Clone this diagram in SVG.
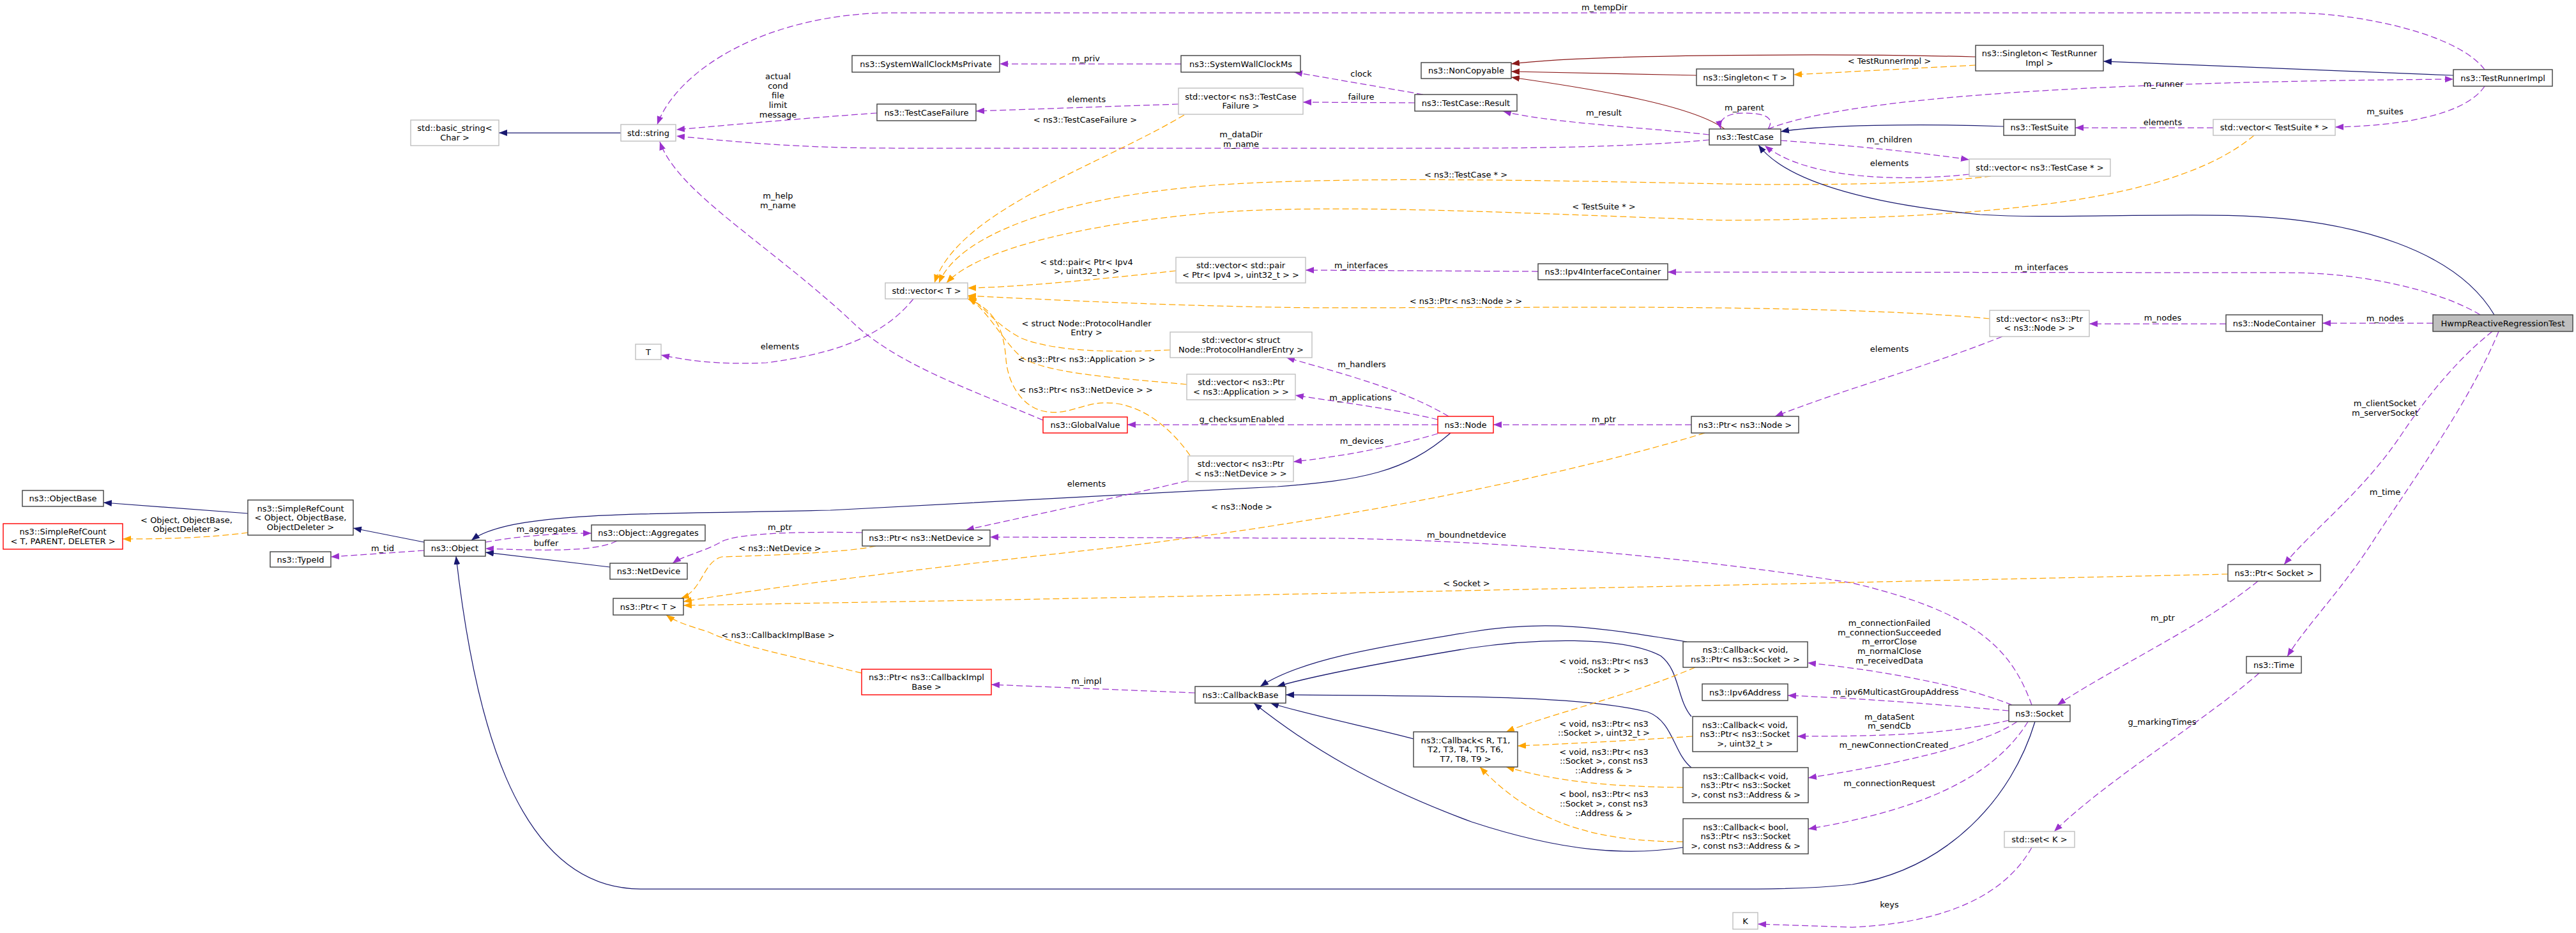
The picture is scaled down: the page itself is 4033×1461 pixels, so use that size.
<svg xmlns="http://www.w3.org/2000/svg" width="4033" height="1461" viewBox="0 0 4033 1461">
<style>
.b{fill:#fff;stroke:#404040;stroke-width:1.4}
.g{fill:#fff;stroke:#bfbfbf;stroke-width:1.4}
.r{fill:#fff;stroke:#ff0000;stroke-width:1.4}
.f{fill:#bfbfbf;stroke:#404040;stroke-width:1.4}
text{font-family:"DejaVu Sans",sans-serif;font-size:13px;text-anchor:middle;fill:#000}
.e path{fill:none;stroke-width:1.25}
.inh{stroke:#191970;marker-end:url(#aN)}
.priv{stroke:#8b1a1a;marker-end:url(#aR)}
.use{stroke:#9a32cd;stroke-dasharray:10,5;marker-end:url(#aP)}
.tmpl{stroke:#ffa500;stroke-dasharray:10,5;marker-end:url(#aO)}
</style>
<defs>
<marker id="aN" markerUnits="userSpaceOnUse" markerWidth="13" markerHeight="10" viewBox="0 0 13 10" refX="13" refY="5" orient="auto"><path d="M0,0 L13,5 L0,10 z" fill="#191970"/></marker>
<marker id="aR" markerUnits="userSpaceOnUse" markerWidth="13" markerHeight="10" viewBox="0 0 13 10" refX="13" refY="5" orient="auto"><path d="M0,0 L13,5 L0,10 z" fill="#8b1a1a"/></marker>
<marker id="aP" markerUnits="userSpaceOnUse" markerWidth="13" markerHeight="10" viewBox="0 0 13 10" refX="13" refY="5" orient="auto"><path d="M0,0 L13,5 L0,10 z" fill="#9a32cd"/></marker>
<marker id="aO" markerUnits="userSpaceOnUse" markerWidth="13" markerHeight="10" viewBox="0 0 13 10" refX="13" refY="5" orient="auto"><path d="M0,0 L13,5 L0,10 z" fill="#ffa500"/></marker>
</defs>
<rect width="4033" height="1461" fill="#fff"/>
<g id="edges" class="e">
<path class="inh" d="M972,208 L781,208"/>
<path class="use" d="M3890,109 C3850,55 3700,20 3584,20 L1400,20 C1200,20 1060,110 1029,195"/>
<path class="use" d="M1373,177 C1260,185 1150,195 1059,203"/>
<path class="use" d="M2676,219 C2560,230 2400,232 2300,232 L1400,232 C1250,232 1150,222 1059,213"/>
<path class="use" d="M1633,658 C1520,610 1400,570 1330,500 C1200,380 1060,300 1033,222"/>
<path class="use" d="M1849,100 L1565,100"/>
<path class="use" d="M2228,148 L2026,113"/>
<path class="use" d="M2215,161 L2040,160"/>
<path class="use" d="M1845,163 L1528,174"/>
<path class="tmpl" d="M1854,180 C1720,260 1500,330 1463,443"/>
<path class="priv" d="M3093,89 C2900,84 2500,84 2366,100"/>
<path class="priv" d="M2656,118 C2550,116 2450,114 2366,112"/>
<path class="priv" d="M2700,202 C2650,165 2500,140 2366,121"/>
<path class="tmpl" d="M3093,102 L2808,117"/>
<path class="inh" d="M3841,118 L3293,96"/>
<path class="use" d="M2768,202 C2900,150 3300,128 3841,124"/>
<path class="use" d="M2768,202 C2780,184 2762,177 2730,177 C2705,177 2690,186 2694,202"/>
<path class="use" d="M2676,211 C2580,200 2420,192 2353,174"/>
<path class="inh" d="M3137,198 C3000,193 2850,196 2788,206"/>
<path class="use" d="M3465,200 L3249,200"/>
<path class="use" d="M3890,135 C3860,180 3760,197 3656,199"/>
<path class="tmpl" d="M3529,212 C3400,320 3100,342 2700,345 C2400,335 2100,318 1900,333 C1700,350 1530,390 1482,443"/>
<path class="use" d="M2788,220 C2900,228 3000,238 3083,250"/>
<path class="use" d="M3083,273 C2980,284 2830,282 2763,228"/>
<path class="tmpl" d="M3117,276 C3000,290 2800,290 2700,288 C2400,282 2100,276 1900,290 C1650,310 1500,370 1470,443"/>
<path class="inh" d="M3905,493 C3850,400 3700,338 3465,337 C3300,336 3200,342 3100,336 C2950,322 2800,290 2753,227"/>
<path class="use" d="M3883,493 C3820,455 3700,427 3584,427 L2611,426"/>
<path class="use" d="M2408,425 L2044,423"/>
<path class="tmpl" d="M1841,424 C1700,440 1580,450 1515,451"/>
<path class="tmpl" d="M3115,499 C3000,488 2800,481 2500,481 L2100,482 C1900,482 1650,470 1515,463"/>
<path class="use" d="M3485,507 L3271,507"/>
<path class="use" d="M3809,506 L3636,506"/>
<path class="use" d="M1430,468 C1380,530 1300,555 1200,568 C1120,572 1070,563 1035,556"/>
<path class="tmpl" d="M1832,548 C1750,552 1657,552 1600,530 C1560,510 1540,480 1516,464"/>
<path class="tmpl" d="M1858,602 C1750,592 1640,585 1600,560 C1570,535 1550,490 1516,466"/>
<path class="tmpl" d="M1863,713 C1840,680 1800,640 1749,632 C1700,625 1680,650 1640,645 C1600,640 1578,600 1575,563 C1572,520 1560,485 1515,468"/>
<path class="use" d="M2251,665 L1765,665"/>
<path class="use" d="M2268,652 C2200,612 2120,590 2014,560"/>
<path class="use" d="M2251,657 C2180,640 2100,630 2028,619"/>
<path class="use" d="M2251,679 C2180,700 2100,715 2025,723"/>
<path class="inh" d="M2271,678 C2200,740 2130,752 2000,762 L1300,799 C1000,806 800,800 738,846"/>
<path class="use" d="M2648,665 L2338,665"/>
<path class="use" d="M3135,527 C3000,580 2900,605 2779,652"/>
<path class="tmpl" d="M2669,678 C2400,760 2000,830 1700,862 C1450,890 1200,920 1070,942"/>
<path class="use" d="M1859,753 C1700,790 1600,810 1512,830"/>
<path class="use" d="M3181,1104 C3150,1020 3100,960 2900,913 C2700,880 2400,848 2100,843 L1550,841"/>
<path class="tmpl" d="M3488,899 C3000,910 2000,932 1300,944 L1070,948"/>
<path class="use" d="M1350,834 C1250,832 1150,835 1128,849 C1100,865 1070,870 1053,882"/>
<path class="tmpl" d="M1371,855 C1330,865 1200,870 1130,872 C1100,880 1100,925 1066,937"/>
<path class="tmpl" d="M1349,1054 C1250,1030 1150,1010 1110,990 C1080,980 1060,975 1043,963"/>
<path class="use" d="M1871,1085 C1700,1078 1600,1074 1552,1072"/>
<path class="inh" d="M2641,1005 C2500,982 2420,970 2300,990 C2180,1010 2040,1030 1973,1075"/>
<path class="inh" d="M2648,1122 C2625,1095 2630,1050 2600,1027 C2540,995 2400,1000 2300,1015 C2150,1040 2050,1060 1999,1075"/>
<path class="inh" d="M2648,1202 C2620,1180 2620,1130 2580,1115 C2480,1090 2300,1090 2013,1088"/>
<path class="inh" d="M2213,1157 C2150,1140 2050,1120 1989,1101"/>
<path class="inh" d="M2635,1327 C2550,1340 2450,1335 2304,1287 C2150,1230 2050,1170 1963,1101"/>
<path class="inh" d="M3186,1130 C3150,1250 3050,1360 2900,1385 C2850,1390 2800,1392 2750,1392 L1003,1392 C800,1392 740,1100 714,871"/>
<path class="tmpl" d="M2654,1045 C2550,1090 2420,1120 2358,1146"/>
<path class="tmpl" d="M2650,1153 C2550,1160 2450,1165 2376,1168"/>
<path class="tmpl" d="M2635,1233 C2550,1232 2450,1228 2358,1201"/>
<path class="tmpl" d="M2635,1318 C2500,1318 2400,1290 2317,1201"/>
<path class="use" d="M3150,1104 C3080,1075 2950,1050 2830,1038"/>
<path class="use" d="M3145,1113 C3000,1100 2900,1093 2799,1089"/>
<path class="use" d="M3145,1128 C3050,1150 2950,1153 2814,1153"/>
<path class="use" d="M3158,1130 C3100,1170 2950,1200 2831,1218"/>
<path class="use" d="M3175,1130 C3120,1220 3000,1270 2831,1298"/>
<path class="use" d="M3902,519 C3850,560 3800,620 3760,680 C3700,770 3620,830 3576,884"/>
<path class="use" d="M3912,519 C3870,620 3800,720 3720,840 C3670,920 3610,980 3581,1028"/>
<path class="use" d="M3535,910 C3450,980 3300,1050 3221,1104"/>
<path class="use" d="M3537,1054 C3450,1130 3300,1220 3216,1302"/>
<path class="use" d="M3181,1327 C3140,1400 3050,1445 2900,1452 L2752,1447"/>
<path class="inh" d="M388,804 L162,787"/>
<path class="tmpl" d="M388,834 C330,842 260,844 192,844"/>
<path class="inh" d="M664,849 L553,827"/>
<path class="use" d="M664,862 L518,872"/>
<path class="use" d="M760,849 C820,838 880,835 926,835"/>
<path class="use" d="M966,847 C930,865 850,862 760,859"/>
<path class="inh" d="M955,888 L760,865"/>
<g id="labels">
<text x="2512" y="16">m_tempDir</text>
<text x="1218" y="124">actual</text><text x="1218" y="139">cond</text><text x="1218" y="154">file</text><text x="1218" y="169">limit</text><text x="1218" y="184">message</text>
<text x="1943" y="215">m_dataDir</text><text x="1943" y="230">m_name</text>
<text x="1218" y="311">m_help</text><text x="1218" y="326">m_name</text>
<text x="1700" y="96">m_priv</text>
<text x="2131" y="120">clock</text>
<text x="2131" y="156">failure</text>
<text x="1701" y="160">elements</text>
<text x="1699" y="192">&lt; ns3::TestCaseFailure &gt;</text>
<text x="2958" y="100">&lt; TestRunnerImpl &gt;</text>
<text x="3387" y="136">m_runner</text>
<text x="2731" y="173">m_parent</text>
<text x="2511" y="181">m_result</text>
<text x="3386" y="196">elements</text>
<text x="3734" y="179">m_suites</text>
<text x="2958" y="223">m_children</text>
<text x="2958" y="260">elements</text>
<text x="2295" y="278">&lt; ns3::TestCase * &gt;</text>
<text x="2511" y="328">&lt; TestSuite * &gt;</text>
<text x="1701" y="415">&lt; std::pair&lt; Ptr&lt; Ipv4</text><text x="1701" y="429">&gt;, uint32_t &gt; &gt;</text>
<text x="2131" y="420">m_interfaces</text>
<text x="3196" y="423">m_interfaces</text>
<text x="2295" y="476">&lt; ns3::Ptr&lt; ns3::Node &gt; &gt;</text>
<text x="3386" y="502">m_nodes</text>
<text x="3734" y="503">m_nodes</text>
<text x="1221" y="547">elements</text>
<text x="2958" y="551">elements</text>
<text x="1701" y="511">&lt; struct Node::ProtocolHandler</text><text x="1701" y="525">Entry &gt;</text>
<text x="1701" y="567">&lt; ns3::Ptr&lt; ns3::Application &gt; &gt;</text>
<text x="2132" y="575">m_handlers</text>
<text x="1700" y="615">&lt; ns3::Ptr&lt; ns3::NetDevice &gt; &gt;</text>
<text x="2130" y="627">m_applications</text>
<text x="3734" y="636">m_clientSocket</text><text x="3734" y="651">m_serverSocket</text>
<text x="1944" y="661">g_checksumEnabled</text>
<text x="2511" y="661">m_ptr</text>
<text x="2132" y="695">m_devices</text>
<text x="1701" y="762">elements</text>
<text x="3734" y="775">m_time</text>
<text x="1944" y="798">&lt; ns3::Node &gt;</text>
<text x="292" y="819">&lt; Object, ObjectBase,</text><text x="292" y="833">ObjectDeleter &gt;</text>
<text x="1221" y="830">m_ptr</text>
<text x="855" y="833">m_aggregates</text>
<text x="2296" y="842">m_boundnetdevice</text>
<text x="855" y="855">buffer</text>
<text x="599" y="863">m_tid</text>
<text x="1221" y="863">&lt; ns3::NetDevice &gt;</text>
<text x="2296" y="918">&lt; Socket &gt;</text>
<text x="3386" y="972">m_ptr</text>
<text x="2958" y="980">m_connectionFailed</text><text x="2958" y="995">m_connectionSucceeded</text><text x="2958" y="1009">m_errorClose</text><text x="2958" y="1024">m_normalClose</text><text x="2958" y="1039">m_receivedData</text>
<text x="1218" y="999">&lt; ns3::CallbackImplBase &gt;</text>
<text x="2511" y="1040">&lt; void, ns3::Ptr&lt; ns3</text><text x="2511" y="1054">::Socket &gt; &gt;</text>
<text x="1701" y="1071">m_impl</text>
<text x="2968" y="1088">m_ipv6MulticastGroupAddress</text>
<text x="2958" y="1127">m_dataSent</text><text x="2958" y="1141">m_sendCb</text>
<text x="3385" y="1135">g_markingTimes</text>
<text x="2511" y="1138">&lt; void, ns3::Ptr&lt; ns3</text><text x="2511" y="1152">::Socket &gt;, uint32_t &gt;</text>
<text x="2965" y="1171">m_newConnectionCreated</text>
<text x="2511" y="1182">&lt; void, ns3::Ptr&lt; ns3</text><text x="2511" y="1196">::Socket &gt;, const ns3</text><text x="2511" y="1211">::Address &amp; &gt;</text>
<text x="2958" y="1231">m_connectionRequest</text>
<text x="2511" y="1248">&lt; bool, ns3::Ptr&lt; ns3</text><text x="2511" y="1263">::Socket &gt;, const ns3</text><text x="2511" y="1278">::Address &amp; &gt;</text>
<text x="2958" y="1421">keys</text>
</g>
</g>
<g id="n1"><rect class="g" x="643" y="188" width="138" height="40"/><text x="712" y="205">std::basic_string&lt;</text><text x="712" y="220">Char &gt;</text></g>
<g id="n2"><rect class="g" x="972" y="195" width="86" height="26"/><text x="1015" y="212.5">std::string</text></g>
<g id="n3"><rect class="b" x="1334" y="87" width="231" height="26"/><text x="1449.5" y="104.5">ns3::SystemWallClockMsPrivate</text></g>
<g id="n4"><rect class="b" x="1849" y="87" width="187" height="26"/><text x="1942.5" y="104.5">ns3::SystemWallClockMs</text></g>
<g id="n5"><rect class="g" x="1845" y="138" width="195" height="41"/><text x="1942.5" y="155.5">std::vector&lt; ns3::TestCase</text><text x="1942.5" y="170">Failure &gt;</text></g>
<g id="n6"><rect class="b" x="1373" y="163" width="155" height="26"/><text x="1450.5" y="180.5">ns3::TestCaseFailure</text></g>
<g id="n7"><rect class="b" x="2225" y="98" width="141" height="25"/><text x="2295.5" y="115">ns3::NonCopyable</text></g>
<g id="n8"><rect class="b" x="2215" y="148" width="160" height="26"/><text x="2295" y="165.5">ns3::TestCase::Result</text></g>
<g id="n9"><rect class="b" x="3093" y="71" width="200" height="40"/><text x="3193" y="88">ns3::Singleton&lt; TestRunner</text><text x="3193" y="103">Impl &gt;</text></g>
<g id="n10"><rect class="b" x="2656" y="108" width="152" height="26"/><text x="2732" y="125.5">ns3::Singleton&lt; T &gt;</text></g>
<g id="n11"><rect class="b" x="3841" y="109" width="155" height="26"/><text x="3918.5" y="126.5">ns3::TestRunnerImpl</text></g>
<g id="n12"><rect class="b" x="2676" y="202" width="112" height="25"/><text x="2732" y="219">ns3::TestCase</text></g>
<g id="n13"><rect class="b" x="3137" y="187" width="112" height="25"/><text x="3193" y="204">ns3::TestSuite</text></g>
<g id="n14"><rect class="g" x="3465" y="187" width="191" height="25"/><text x="3560.5" y="204">std::vector&lt; TestSuite * &gt;</text></g>
<g id="n15"><rect class="g" x="3083" y="249" width="221" height="27"/><text x="3193.5" y="267">std::vector&lt; ns3::TestCase * &gt;</text></g>
<g id="n16"><rect class="g" x="1841" y="403" width="203" height="40"/><text x="1942.5" y="420">std::vector&lt; std::pair</text><text x="1942.5" y="435">&lt; Ptr&lt; Ipv4 &gt;, uint32_t &gt; &gt;</text></g>
<g id="n17"><rect class="b" x="2408" y="413" width="203" height="25"/><text x="2509.5" y="430">ns3::Ipv4InterfaceContainer</text></g>
<g id="n18"><rect class="g" x="1386" y="443" width="129" height="25"/><text x="1450.5" y="460">std::vector&lt; T &gt;</text></g>
<g id="n19"><rect class="g" x="3115" y="486" width="156" height="41"/><text x="3193" y="503.5">std::vector&lt; ns3::Ptr</text><text x="3193" y="518">&lt; ns3::Node &gt; &gt;</text></g>
<g id="n20"><rect class="b" x="3485" y="493" width="151" height="26"/><text x="3560.5" y="510.5">ns3::NodeContainer</text></g>
<g id="n21"><rect class="f" x="3809" y="493" width="219" height="26"/><text x="3918.5" y="510.5">HwmpReactiveRegressionTest</text></g>
<g id="n22"><rect class="g" x="995" y="539" width="40" height="24"/><text x="1015" y="555.5">T</text></g>
<g id="n23"><rect class="g" x="1832" y="520" width="222" height="40"/><text x="1943" y="537">std::vector&lt; struct</text><text x="1943" y="552">Node::ProtocolHandlerEntry &gt;</text></g>
<g id="n24"><rect class="g" x="1858" y="586" width="170" height="40"/><text x="1943" y="603">std::vector&lt; ns3::Ptr</text><text x="1943" y="618">&lt; ns3::Application &gt; &gt;</text></g>
<g id="n25"><rect class="r" x="1633" y="653" width="132" height="25"/><text x="1699" y="670">ns3::GlobalValue</text></g>
<g id="n26"><rect class="r" x="2251" y="652" width="87" height="26"/><text x="2294.5" y="669.5">ns3::Node</text></g>
<g id="n27"><rect class="b" x="2648" y="652" width="168" height="26"/><text x="2732" y="669.5">ns3::Ptr&lt; ns3::Node &gt;</text></g>
<g id="n28"><rect class="g" x="1860" y="714" width="165" height="40"/><text x="1942.5" y="731">std::vector&lt; ns3::Ptr</text><text x="1942.5" y="746">&lt; ns3::NetDevice &gt; &gt;</text></g>
<g id="n29"><rect class="b" x="35" y="768" width="127" height="25"/><text x="98.5" y="785">ns3::ObjectBase</text></g>
<g id="n30"><rect class="b" x="388" y="783" width="165" height="55"/><text x="470.5" y="800.5">ns3::SimpleRefCount</text><text x="470.5" y="815">&lt; Object, ObjectBase,</text><text x="470.5" y="829.5">ObjectDeleter &gt;</text></g>
<g id="n31"><rect class="r" x="5" y="820" width="187" height="40"/><text x="98.5" y="837">ns3::SimpleRefCount</text><text x="98.5" y="852">&lt; T, PARENT, DELETER &gt;</text></g>
<g id="n32"><rect class="b" x="664" y="846" width="96" height="25"/><text x="712" y="863">ns3::Object</text></g>
<g id="n33"><rect class="b" x="423" y="864" width="95" height="24"/><text x="470.5" y="880.5">ns3::TypeId</text></g>
<g id="n34"><rect class="b" x="926" y="822" width="178" height="25"/><text x="1015" y="839">ns3::Object::Aggregates</text></g>
<g id="n35"><rect class="b" x="955" y="882" width="121" height="25"/><text x="1015.5" y="899">ns3::NetDevice</text></g>
<g id="n36"><rect class="b" x="1350" y="830" width="200" height="25"/><text x="1450" y="847">ns3::Ptr&lt; ns3::NetDevice &gt;</text></g>
<g id="n37"><rect class="b" x="960" y="937" width="110" height="26"/><text x="1015" y="954.5">ns3::Ptr&lt; T &gt;</text></g>
<g id="n38"><rect class="b" x="3488" y="884" width="145" height="26"/><text x="3560.5" y="901.5">ns3::Ptr&lt; Socket &gt;</text></g>
<g id="n39"><rect class="r" x="1349" y="1048" width="203" height="40"/><text x="1450.5" y="1065">ns3::Ptr&lt; ns3::CallbackImpl</text><text x="1450.5" y="1080">Base &gt;</text></g>
<g id="n40"><rect class="b" x="1871" y="1075" width="142" height="26"/><text x="1942" y="1092.5">ns3::CallbackBase</text></g>
<g id="n41"><rect class="b" x="2635" y="1005" width="195" height="40"/><text x="2732.5" y="1022">ns3::Callback&lt; void,</text><text x="2732.5" y="1037">ns3::Ptr&lt; ns3::Socket &gt; &gt;</text></g>
<g id="n42"><rect class="b" x="2665" y="1071" width="134" height="26"/><text x="2732" y="1088.5">ns3::Ipv6Address</text></g>
<g id="n43"><rect class="b" x="2213" y="1146" width="163" height="55"/><text x="2294.5" y="1163.5">ns3::Callback&lt; R, T1,</text><text x="2294.5" y="1178">T2, T3, T4, T5, T6,</text><text x="2294.5" y="1192.5">T7, T8, T9 &gt;</text></g>
<g id="n44"><rect class="b" x="2650" y="1122" width="164" height="55"/><text x="2732" y="1139.5">ns3::Callback&lt; void,</text><text x="2732" y="1154">ns3::Ptr&lt; ns3::Socket</text><text x="2732" y="1168.5">&gt;, uint32_t &gt;</text></g>
<g id="n45"><rect class="b" x="2635" y="1202" width="196" height="55"/><text x="2733" y="1219.5">ns3::Callback&lt; void,</text><text x="2733" y="1234">ns3::Ptr&lt; ns3::Socket</text><text x="2733" y="1248.5">&gt;, const ns3::Address &amp; &gt;</text></g>
<g id="n46"><rect class="b" x="2635" y="1282" width="196" height="55"/><text x="2733" y="1299.5">ns3::Callback&lt; bool,</text><text x="2733" y="1314">ns3::Ptr&lt; ns3::Socket</text><text x="2733" y="1328.5">&gt;, const ns3::Address &amp; &gt;</text></g>
<g id="n47"><rect class="b" x="3145" y="1104" width="96" height="26"/><text x="3193" y="1121.5">ns3::Socket</text></g>
<g id="n48"><rect class="b" x="3517" y="1028" width="86" height="26"/><text x="3560" y="1045.5">ns3::Time</text></g>
<g id="n49"><rect class="g" x="3138" y="1302" width="110" height="25"/><text x="3193" y="1319">std::set&lt; K &gt;</text></g>
<g id="n50"><rect class="g" x="2713" y="1429" width="39" height="26"/><text x="2732.5" y="1446.5">K</text></g>
</svg>
